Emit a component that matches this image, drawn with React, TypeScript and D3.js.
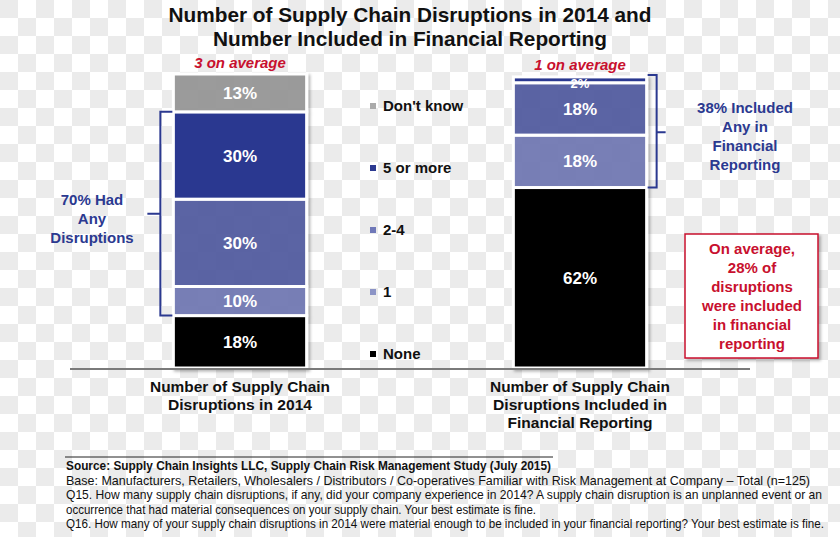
import React from "react";
import * as d3 from "d3";

const W = 840;
const H = 537;

const categories = ["Number of Supply Chain Disruptions in 2014", "Number of Supply Chain Disruptions Included in Financial Reporting"];
const categoryLines = [
  ["Number of Supply Chain", "Disruptions in 2014"],
  ["Number of Supply Chain", "Disruptions Included in", "Financial Reporting"],
];
const categoryLineWidths = [
  [180, 144],
  [180, 174, 145],
];
const seriesKeys = ["None", "1", "2-4", "5 or more", "Don't know"];
const valuesNone = [18, 62];
const values1 = [10, 18];
const values2to4 = [30, 18];
const values5plus = [30, 2];
const valuesDontKnow = [13, 0];
const averages = ["3 on average", "1 on average"];
const legendOrder = ["Don't know", "5 or more", "2-4", "1", "None"];

const barColors: Record<string, string> = {
  None: "#000000",
  "1": "#7179b4",
  "2-4": "#525ca1",
  "5 or more": "#2b3990",
  "Don't know": "#979797",
};
const legendColors: Record<string, string> = {
  None: "#000000",
  "1": "#8c94c6",
  "2-4": "#6f78b8",
  "5 or more": "#2b3990",
  "Don't know": "#aaaaaa",
};

const rows = categories.map((c, i) => ({
  category: c,
  None: valuesNone[i],
  "1": values1[i],
  "2-4": values2to4[i],
  "5 or more": values5plus[i],
  "Don't know": valuesDontKnow[i],
}));

const footLines = [
  { t: "Source:  Supply Chain Insights LLC, Supply Chain Risk Management Study (July 2015)", bold: true, w: 485 },
  { t: "Base:  Manufacturers, Retailers, Wholesalers / Distributors / Co-operatives Familiar with Risk Management at Company \u2013 Total (n=125)", bold: false, w: 744 },
  { t: "Q15. How many supply chain disruptions, if any, did your company experience in 2014?  A supply chain disruption is an unplanned event or an", bold: false, w: 756 },
  { t: "occurrence that had material consequences on your supply chain. Your best estimate is fine.", bold: false, w: 470 },
  { t: "Q16. How many of your supply chain disruptions in 2014 were material enough to be included in your financial reporting? Your best estimate is fine.", bold: false, w: 758 },
];

const BLUE = "#2b3990";
const RED = "#c8102e";
const FONT = "'Liberation Sans', Arial, sans-serif";
const NARROW = "'Liberation Sans Narrow', 'Arial Narrow', 'Liberation Sans', sans-serif";
const FOOT_SX = 0.85;

export default function App() {
  const x = d3.scaleBand<string>().domain(categories).range([70, 750]).paddingInner(0.608).paddingOuter(0.304);
  const y = d3.scaleLinear().domain([0, 101]).range([368, 74]);
  const stacked = d3.stack<any>().keys(seriesKeys)(rows as any);
  const bw = x.bandwidth();

  const leftX = x(categories[0])!;
  const rightX = x(categories[1])!;

  const lTop = y(stacked[4][0][0]);
  const lBot = y(stacked[1][0][0]);
  const rTop = y(stacked[3][1][1]);
  const rBot = y(stacked[1][1][0]);

  return (
    <svg width={W} height={H} style={{ position: "absolute", left: 0, top: 0 }} xmlns="http://www.w3.org/2000/svg">
      <defs>
        <pattern id="checker" width={36} height={36} patternUnits="userSpaceOnUse">
          <rect width={36} height={36} fill="#ffffff" />
          <rect width={18} height={18} fill="#ebebeb" />
          <rect x={18} y={18} width={18} height={18} fill="#ebebeb" />
        </pattern>
        <filter id="shadow" x="-10%" y="-10%" width="130%" height="130%">
          <feDropShadow dx={2} dy={2} stdDeviation={1.5} floodColor="#000" floodOpacity={0.3} />
        </filter>
      </defs>
      <rect width={W} height={H} fill="url(#checker)" />

      {/* Title */}
      <g fontFamily={FONT} fontWeight="bold" fontSize={20.8} textAnchor="middle" fill="#111">
        <text x={410} y={22}>Number of Supply Chain Disruptions in 2014 and</text>
        <text x={410} y={46}>Number Included in Financial Reporting</text>
      </g>

      {/* Averages */}
      {averages.map((a, i) => (
        <text key={a} x={x(categories[i])! + bw / 2} y={i === 0 ? 68 : 70} textAnchor="middle" fontFamily={FONT}
          fontWeight="bold" fontStyle="italic" fontSize={15} fill={RED}>{a}</text>
      ))}

      {/* Bars */}
      {categories.map((c, ci) => (
        <g key={c} filter="url(#shadow)">
          {stacked.map((s) => {
            const d = s[ci];
            const h = y(d[0]) - y(d[1]);
            if (h <= 0) return null;
            return (
              <rect key={s.key} x={x(c)} y={y(d[1])} width={bw} height={h}
                fill={barColors[s.key]} fillOpacity={s.key === "None" || s.key === "5 or more" ? 1 : 0.92}
                stroke="#fff" strokeWidth={3} />
            );
          })}
        </g>
      ))}
      {/* Bar labels */}
      {categories.map((c, ci) => (
        <g key={c + "l"} fontFamily={FONT} fontWeight="bold" fill="#fff" textAnchor="middle">
          {stacked.map((s) => {
            const d = s[ci];
            const v = d[1] - d[0];
            if (v <= 0) return null;
            const small = v < 5;
            const cy = small ? y(d[1]) + 11 : (y(d[0]) + y(d[1])) / 2 + 6;
            return (
              <text key={s.key} x={x(c)! + bw / 2} y={cy} fontSize={small ? 13 : 17}>{v}%</text>
            );
          })}
        </g>
      ))}

      {/* Baseline */}
      <line x1={70} x2={750} y1={369} y2={369} stroke="#7a7a7a" strokeWidth={2} />

      {/* Legend */}
      {legendOrder.map((k, i) => {
        const ly = 106 + i * 62;
        return (
          <g key={k}>
            <rect x={370} y={ly - 3} width={6} height={6} fill={legendColors[k]} />
            <text x={383} y={ly + 5} fontFamily={FONT} fontWeight="bold" fontSize={15} fill="#111">{k}</text>
          </g>
        );
      })}

      {/* Left bracket */}
      <path d={`M${leftX - 1},${lTop} H${leftX - 13} V${lBot} H${leftX - 1} M${leftX - 13},${(lTop + lBot) / 2} H${leftX - 26}`}
        fill="none" stroke={BLUE} strokeWidth={2} />
      <g fontFamily={FONT} fontWeight="bold" fontSize={15} fill={BLUE} textAnchor="middle">
        <text x={92} y={205}>70% Had</text>
        <text x={92} y={224}>Any</text>
        <text x={92} y={243}>Disruptions</text>
      </g>

      {/* Right bracket */}
      <path d={`M${rightX + bw + 1},${rTop - 2} H${rightX + bw + 10} V${rBot} H${rightX + bw + 1} M${rightX + bw + 10},${(rTop + rBot) / 2} H${rightX + bw + 19}`}
        fill="none" stroke={BLUE} strokeWidth={2} />
      <g fontFamily={FONT} fontWeight="bold" fontSize={15} fill={BLUE} textAnchor="middle">
        <text x={745} y={113}>38% Included</text>
        <text x={745} y={132}>Any in</text>
        <text x={745} y={151}>Financial</text>
        <text x={745} y={170}>Reporting</text>
      </g>

      {/* Red note box */}
      <rect x={685} y={234} width={133} height={124} fill="#fff" stroke={RED} strokeWidth={1.5} filter="url(#shadow)" />
      <g fontFamily={FONT} fontWeight="bold" fontSize={15} fill={RED} textAnchor="middle">
        {["On average,", "28% of", "disruptions", "were included", "in financial", "reporting"].map((t, i) => (
          <text key={t} x={752} y={254 + i * 19}>{t}</text>
        ))}
      </g>

      {/* Category labels */}
      {categoryLines.map((lines, ci) => (
        <g key={ci} fontFamily={NARROW} fontWeight="bold" fontSize={15} fill="#111" textAnchor="middle">
          {lines.map((t, li) => (
            <text key={t} x={x(categories[ci])! + bw / 2} y={392 + li * 18}
              textLength={categoryLineWidths[ci][li]} lengthAdjust="spacingAndGlyphs">{t}</text>
          ))}
        </g>
      ))}

      {/* Footnote */}
      <line x1={65} x2={553} y1={457} y2={457} stroke="#222" strokeWidth={1} />
      {footLines.map((f, i) => (
        <g key={i} transform={`translate(66,${470 + i * 14.5}) scale(${FOOT_SX},1)`}>
          <text x={0} y={0} fontFamily={NARROW} fontSize={12} fontWeight={f.bold ? "bold" : "normal"}
            fill="#111" textLength={f.w / FOOT_SX} lengthAdjust="spacingAndGlyphs">{f.t}</text>
        </g>
      ))}
    </svg>
  );
}
